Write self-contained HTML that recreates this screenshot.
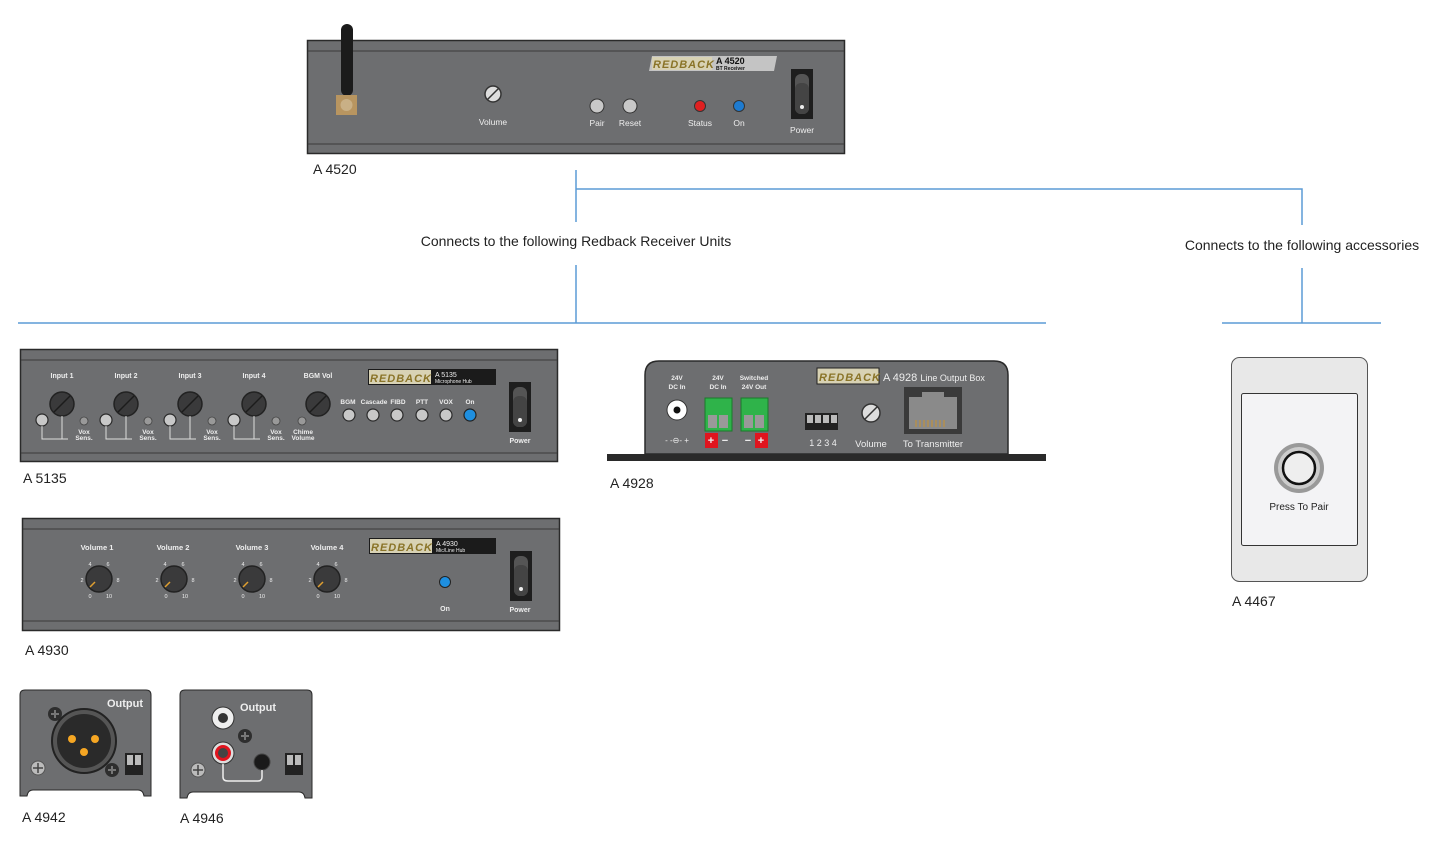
<!DOCTYPE html>
<html><head><meta charset="utf-8"><style>
html,body{margin:0;padding:0;background:#fff;width:1445px;height:847px;overflow:hidden}
svg{display:block}
text{font-family:"Liberation Sans",sans-serif}
.lbl{font-size:14px;fill:#222}
.w{fill:#eee;font-weight:bold}
</style></head><body>
<svg width="1445" height="847" viewBox="0 0 1445 847">
<defs>
<g id="knob">
<circle r="12" fill="#3a3a3b" stroke="#222" stroke-width="1.5"/>
<line x1="-8" y1="8" x2="8" y2="-8" stroke="#1c1c1c" stroke-width="1.5"/>
</g>
<g id="knob2">
<circle r="13" fill="#3a3a3b" stroke="#222" stroke-width="1.5"/>
<line x1="-9" y1="8" x2="-4" y2="3" stroke="#e0a030" stroke-width="1.5"/>
</g>
<g id="btn"><circle r="6" fill="#c8c8c8" stroke="#2a2a2a" stroke-width="1.2"/></g>
<g id="sw"><rect x="0" y="0" width="22" height="50" fill="#1e1e1e"/><rect x="4" y="5" width="14" height="40" rx="6" fill="#555"/><rect x="4" y="14" width="14" height="31" rx="6" fill="#444"/><circle cx="11" cy="38" r="2" fill="#eee"/></g>
<g id="screw"><circle r="7" fill="#2e2e2e"/><path d="M-4 0H4M0 -4V4" stroke="#777" stroke-width="2"/></g>
</defs>

<!-- connectors -->
<g stroke="#5b9bd5" stroke-width="1.5" fill="none">
<path d="M576 170V222M576 189H1302V225M576 265V323M18 323H1046M1302 268V323M1222 323H1381"/>
</g>
<text x="576" y="246" text-anchor="middle" font-size="14" fill="#222">Connects to the following Redback Receiver Units</text>
<text x="1302" y="250" text-anchor="middle" font-size="14" fill="#222">Connects to the following accessories</text>

<!-- A4520 -->
<rect x="307.5" y="40.5" width="537" height="113" fill="#6d6e70" stroke="#2a2a2a" stroke-width="1.5"/>
<line x1="308" y1="51" x2="844" y2="51" stroke="#3a3a3a"/>
<line x1="308" y1="144" x2="844" y2="144" stroke="#3a3a3a"/>
<rect x="341" y="24" width="12" height="72" rx="6" fill="#1b1b1b"/>
<rect x="336" y="95" width="21" height="20" fill="#b89560"/><circle cx="346.5" cy="105" r="6" fill="#c9b086"/>
<circle cx="493" cy="94" r="8" fill="#ddd" stroke="#333" stroke-width="1.5"/><line x1="487" y1="100" x2="499" y2="88" stroke="#333" stroke-width="1.5"/>
<text x="493" y="125" text-anchor="middle" font-size="8.5" fill="#eee">Volume</text>
<circle cx="597" cy="106" r="7" fill="#c8c8c8" stroke="#333"/><circle cx="630" cy="106" r="7" fill="#c8c8c8" stroke="#333"/>
<text x="597" y="126" text-anchor="middle" font-size="8.5" fill="#eee">Pair</text><text x="630" y="126" text-anchor="middle" font-size="8.5" fill="#eee">Reset</text>
<circle cx="700" cy="106" r="5.5" fill="#e02020" stroke="#333"/><circle cx="739" cy="106" r="5.5" fill="#1e7bd0" stroke="#333"/>
<text x="700" y="126" text-anchor="middle" font-size="8.5" fill="#eee">Status</text><text x="739" y="126" text-anchor="middle" font-size="8.5" fill="#eee">On</text>
<path d="M652 56H777L774 71H649Z" fill="#c4c4c4"/><rect x="652" y="57" width="60" height="13" fill="#d8d2b4"/>
<text x="653" y="68" font-size="11" font-weight="bold" font-style="italic" fill="#8a7428" letter-spacing="1">REDBACK</text>
<text x="716" y="64" font-size="9" font-weight="bold" fill="#111">A 4520</text><text x="716" y="70" font-size="5" font-weight="bold" fill="#111">BT Receiver</text>
<use href="#sw" x="791" y="69"/>
<text x="802" y="133" text-anchor="middle" font-size="8.5" fill="#eee">Power</text>
<text x="313" y="174" class="lbl">A 4520</text>

<!-- A5135 -->
<rect x="20.5" y="349.5" width="537" height="112" fill="#6d6e70" stroke="#2a2a2a" stroke-width="1.5"/>
<line x1="21" y1="360" x2="557" y2="360" stroke="#3a3a3a"/><line x1="21" y1="453" x2="557" y2="453" stroke="#3a3a3a"/>
<g font-size="7" class="w" text-anchor="middle">
<text x="62" y="378" class="w">Input 1</text><text x="126" y="378" class="w">Input 2</text><text x="190" y="378" class="w">Input 3</text><text x="254" y="378" class="w">Input 4</text><text x="318" y="378" class="w">BGM Vol</text>
</g>
<g>
<use href="#knob" x="62" y="404"/><use href="#knob" x="126" y="404"/><use href="#knob" x="190" y="404"/><use href="#knob" x="254" y="404"/><use href="#knob" x="318" y="404"/>
<use href="#btn" x="42" y="420"/><use href="#btn" x="106" y="420"/><use href="#btn" x="170" y="420"/><use href="#btn" x="234" y="420"/>
<g stroke="#ddd" fill="none" stroke-width="1"><path d="M42 426V439H68M62 416V439M106 426V439H132M126 416V439M170 426V439H196M190 416V439M234 426V439H260M254 416V439"/></g>
<g fill="#999" stroke="#444" stroke-width=".8"><circle cx="84" cy="421" r="4"/><circle cx="148" cy="421" r="4"/><circle cx="212" cy="421" r="4"/><circle cx="276" cy="421" r="4"/><circle cx="302" cy="421" r="4"/></g>
<g font-size="6.5" class="w" text-anchor="middle">
<text x="84" y="434">Vox</text><text x="84" y="440">Sens.</text><text x="148" y="434">Vox</text><text x="148" y="440">Sens.</text><text x="212" y="434">Vox</text><text x="212" y="440">Sens.</text><text x="276" y="434">Vox</text><text x="276" y="440">Sens.</text><text x="303" y="434">Chime</text><text x="303" y="440">Volume</text>
<text x="348" y="404">BGM</text><text x="374" y="404">Cascade</text><text x="398" y="404">FIBD</text><text x="422" y="404">PTT</text><text x="446" y="404">VOX</text><text x="470" y="404">On</text>
</g>
<use href="#btn" x="349" y="415"/><use href="#btn" x="373" y="415"/><use href="#btn" x="397" y="415"/><use href="#btn" x="422" y="415"/><use href="#btn" x="446" y="415"/>
<circle cx="470" cy="415" r="6" fill="#1e8fe0" stroke="#222" stroke-width="1.2"/>
</g>
<rect x="368" y="369" width="128" height="16" fill="#1b1b1b"/><rect x="369" y="370" width="62" height="14" fill="#d8d2b4"/>
<text x="370" y="382" font-size="11" font-weight="bold" font-style="italic" fill="#8a7428" letter-spacing="1">REDBACK</text>
<text x="435" y="377" font-size="7" fill="#eee">A 5135</text><text x="435" y="383" font-size="5" fill="#eee">Microphone Hub</text>
<use href="#sw" x="509" y="382"/>
<text x="520" y="443" text-anchor="middle" font-size="7" class="w">Power</text>
<text x="23" y="483" class="lbl">A 5135</text>

<!-- A4928 -->
<path d="M645 454V375Q645 361 659 361H994Q1008 361 1008 375V454Z" fill="#6d6e70" stroke="#2a2a2a" stroke-width="1.5"/>
<rect x="607" y="454" width="439" height="7" fill="#2a2a2a"/>
<g font-size="6.5" class="w" text-anchor="middle">
<text x="677" y="380">24V</text><text x="677" y="389">DC In</text><text x="718" y="380">24V</text><text x="718" y="389">DC In</text><text x="754" y="380">Switched</text><text x="754" y="389">24V Out</text>
</g>
<circle cx="677" cy="410" r="10" fill="#fff" stroke="#333"/><circle cx="677" cy="410" r="3.5" fill="#111"/>
<text x="677" y="443" text-anchor="middle" font-size="8" fill="#eee">- -⊖- +</text>
<rect x="705" y="398" width="27" height="33" fill="#2fb34a" stroke="#1a7a2a"/><rect x="708" y="415" width="9" height="13" fill="#999"/><rect x="719" y="415" width="9" height="13" fill="#999"/>
<rect x="741" y="398" width="27" height="33" fill="#2fb34a" stroke="#1a7a2a"/><rect x="744" y="415" width="9" height="13" fill="#999"/><rect x="755" y="415" width="9" height="13" fill="#999"/>
<rect x="705" y="433" width="13" height="15" fill="#e0141e"/><rect x="755" y="433" width="13" height="15" fill="#e0141e"/>
<text x="711" y="444" text-anchor="middle" font-size="11" class="w">+</text><text x="725" y="444" text-anchor="middle" font-size="11" class="w">−</text>
<text x="748" y="444" text-anchor="middle" font-size="11" class="w">−</text><text x="761" y="444" text-anchor="middle" font-size="11" class="w">+</text>
<rect x="805" y="413" width="33" height="17" fill="#222"/><g fill="#bbb"><rect x="807" y="415" width="6" height="8"/><rect x="815" y="415" width="6" height="8"/><rect x="823" y="415" width="6" height="8"/><rect x="831" y="415" width="6" height="8"/></g>
<text x="823" y="446" text-anchor="middle" font-size="9" fill="#eee">1 2 3 4</text>
<circle cx="871" cy="413" r="9" fill="#ddd" stroke="#333" stroke-width="1.5"/><line x1="865" y1="419" x2="877" y2="407" stroke="#333" stroke-width="1.5"/>
<text x="871" y="447" text-anchor="middle" font-size="9.5" fill="#eee">Volume</text>
<rect x="904" y="387" width="58" height="47" fill="#3a3a3a"/><rect x="909" y="397" width="48" height="32" fill="#8a8a8a"/><rect x="922" y="392" width="22" height="8" fill="#8a8a8a"/>
<g stroke="#c9922f"><path d="M916 420v7M920 420v7M924 420v7M928 420v7M932 420v7M936 420v7M940 420v7M944 420v7"/></g>
<text x="933" y="447" text-anchor="middle" font-size="9.5" fill="#eee">To Transmitter</text>
<rect x="817" y="368" width="62" height="16" fill="#d8d2b4" stroke="#222"/>
<text x="819" y="381" font-size="11" font-weight="bold" font-style="italic" fill="#8a7428" letter-spacing="1">REDBACK</text>
<text x="883" y="381" font-size="11" fill="#eee">A 4928 <tspan font-size="9">Line Output Box</tspan></text>
<text x="610" y="488" class="lbl">A 4928</text>

<!-- A4930 -->
<rect x="22.5" y="518.5" width="537" height="112" fill="#6d6e70" stroke="#2a2a2a" stroke-width="1.5"/>
<line x1="23" y1="529" x2="559" y2="529" stroke="#3a3a3a"/><line x1="23" y1="621" x2="559" y2="621" stroke="#3a3a3a"/>
<g font-size="7.5" class="w" text-anchor="middle"><text x="97" y="550">Volume 1</text><text x="173" y="550">Volume 2</text><text x="252" y="550">Volume 3</text><text x="327" y="550">Volume 4</text></g>
<use href="#knob2" x="99" y="579"/><use href="#knob2" x="174" y="579"/><use href="#knob2" x="252" y="579"/><use href="#knob2" x="327" y="579"/>
<g font-size="5.5" fill="#eee" text-anchor="middle">
<text x="90" y="598">0</text><text x="109" y="598">10</text><text x="82" y="582">2</text><text x="118" y="582">8</text><text x="90" y="566">4</text><text x="108" y="566">6</text>
<text x="166" y="598">0</text><text x="185" y="598">10</text><text x="157" y="582">2</text><text x="193" y="582">8</text><text x="165" y="566">4</text><text x="183" y="566">6</text>
<text x="243" y="598">0</text><text x="262" y="598">10</text><text x="235" y="582">2</text><text x="271" y="582">8</text><text x="243" y="566">4</text><text x="261" y="566">6</text>
<text x="318" y="598">0</text><text x="337" y="598">10</text><text x="310" y="582">2</text><text x="346" y="582">8</text><text x="318" y="566">4</text><text x="336" y="566">6</text>
</g>
<circle cx="445" cy="582" r="5.5" fill="#1e8fe0" stroke="#222"/>
<text x="445" y="611" text-anchor="middle" font-size="7" class="w">On</text>
<rect x="369" y="538" width="127" height="16" fill="#1b1b1b"/><rect x="370" y="539" width="62" height="14" fill="#d8d2b4"/>
<text x="371" y="551" font-size="11" font-weight="bold" font-style="italic" fill="#8a7428" letter-spacing="1">REDBACK</text>
<text x="436" y="546" font-size="7" fill="#eee">A 4930</text><text x="436" y="552" font-size="5" fill="#eee">Mic/Line Hub</text>
<use href="#sw" x="510" y="551"/>
<text x="520" y="612" text-anchor="middle" font-size="7" class="w">Power</text>
<text x="25" y="655" class="lbl">A 4930</text>

<!-- A4942 -->
<path d="M20 796V695Q20 690 25 690H146Q151 690 151 695V796H144Q143 790 138 790H33Q28 790 27 796Z" fill="#6d6e70" stroke="#2a2a2a"/>
<text x="125" y="707" text-anchor="middle" font-size="11" class="w">Output</text>
<circle cx="84" cy="741" r="32" fill="#555" stroke="#222" stroke-width="2"/><circle cx="84" cy="741" r="27" fill="#2a2a2a"/>
<circle cx="72" cy="739" r="4" fill="#f5a623"/><circle cx="95" cy="739" r="4" fill="#f5a623"/><circle cx="84" cy="752" r="4" fill="#f5a623"/>
<use href="#screw" x="55" y="714"/><use href="#screw" x="112" y="770"/>
<circle cx="38" cy="768" r="7" fill="#bbb" stroke="#555"/><path d="M33 768h10M38 763v10" stroke="#444" stroke-width="1.5"/>
<rect x="125" y="753" width="18" height="22" fill="#222"/><rect x="127" y="755" width="6" height="10" fill="#bbb"/><rect x="135" y="755" width="6" height="10" fill="#bbb"/>
<text x="22" y="822" class="lbl">A 4942</text>

<!-- A4946 -->
<path d="M180 798V695Q180 690 185 690H307Q312 690 312 695V798H305Q304 792 299 792H193Q188 792 187 798Z" fill="#6d6e70" stroke="#2a2a2a"/>
<text x="258" y="711" text-anchor="middle" font-size="11" class="w">Output</text>
<circle cx="223" cy="718" r="11" fill="#eee" stroke="#333"/><circle cx="223" cy="718" r="5" fill="#333"/>
<circle cx="223" cy="753" r="11" fill="#ddd" stroke="#333"/><circle cx="223" cy="753" r="8" fill="#e0141e"/><circle cx="223" cy="753" r="5" fill="#444"/>
<use href="#screw" x="245" y="736"/>
<circle cx="262" cy="762" r="8" fill="#1a1a1a" stroke="#444"/>
<path d="M223 764V777Q223 781 228 781H258Q262 781 262 777V770" stroke="#eee" stroke-width="1.5" fill="none"/>
<circle cx="198" cy="770" r="7" fill="#bbb" stroke="#555"/><path d="M193 770h10M198 765v10" stroke="#444" stroke-width="1.5"/>
<rect x="285" y="753" width="18" height="22" fill="#222"/><rect x="287" y="755" width="6" height="10" fill="#bbb"/><rect x="295" y="755" width="6" height="10" fill="#bbb"/>
<text x="180" y="823" class="lbl">A 4946</text>

<!-- A4467 -->
<rect x="1231.5" y="357.5" width="136" height="224" rx="8" fill="#e8e8e8" stroke="#555"/>
<rect x="1241.5" y="393.5" width="116" height="152" rx="2" fill="#f3f3f5" stroke="#333"/>
<circle cx="1299" cy="468" r="25" fill="#999"/><circle cx="1299" cy="468" r="21" fill="#ccc"/><circle cx="1299" cy="468" r="16" fill="#eee" stroke="#111" stroke-width="2.5"/>
<text x="1299" y="510" text-anchor="middle" font-size="10" fill="#222">Press To Pair</text>
<text x="1232" y="606" class="lbl">A 4467</text>
</svg>
</body></html>
